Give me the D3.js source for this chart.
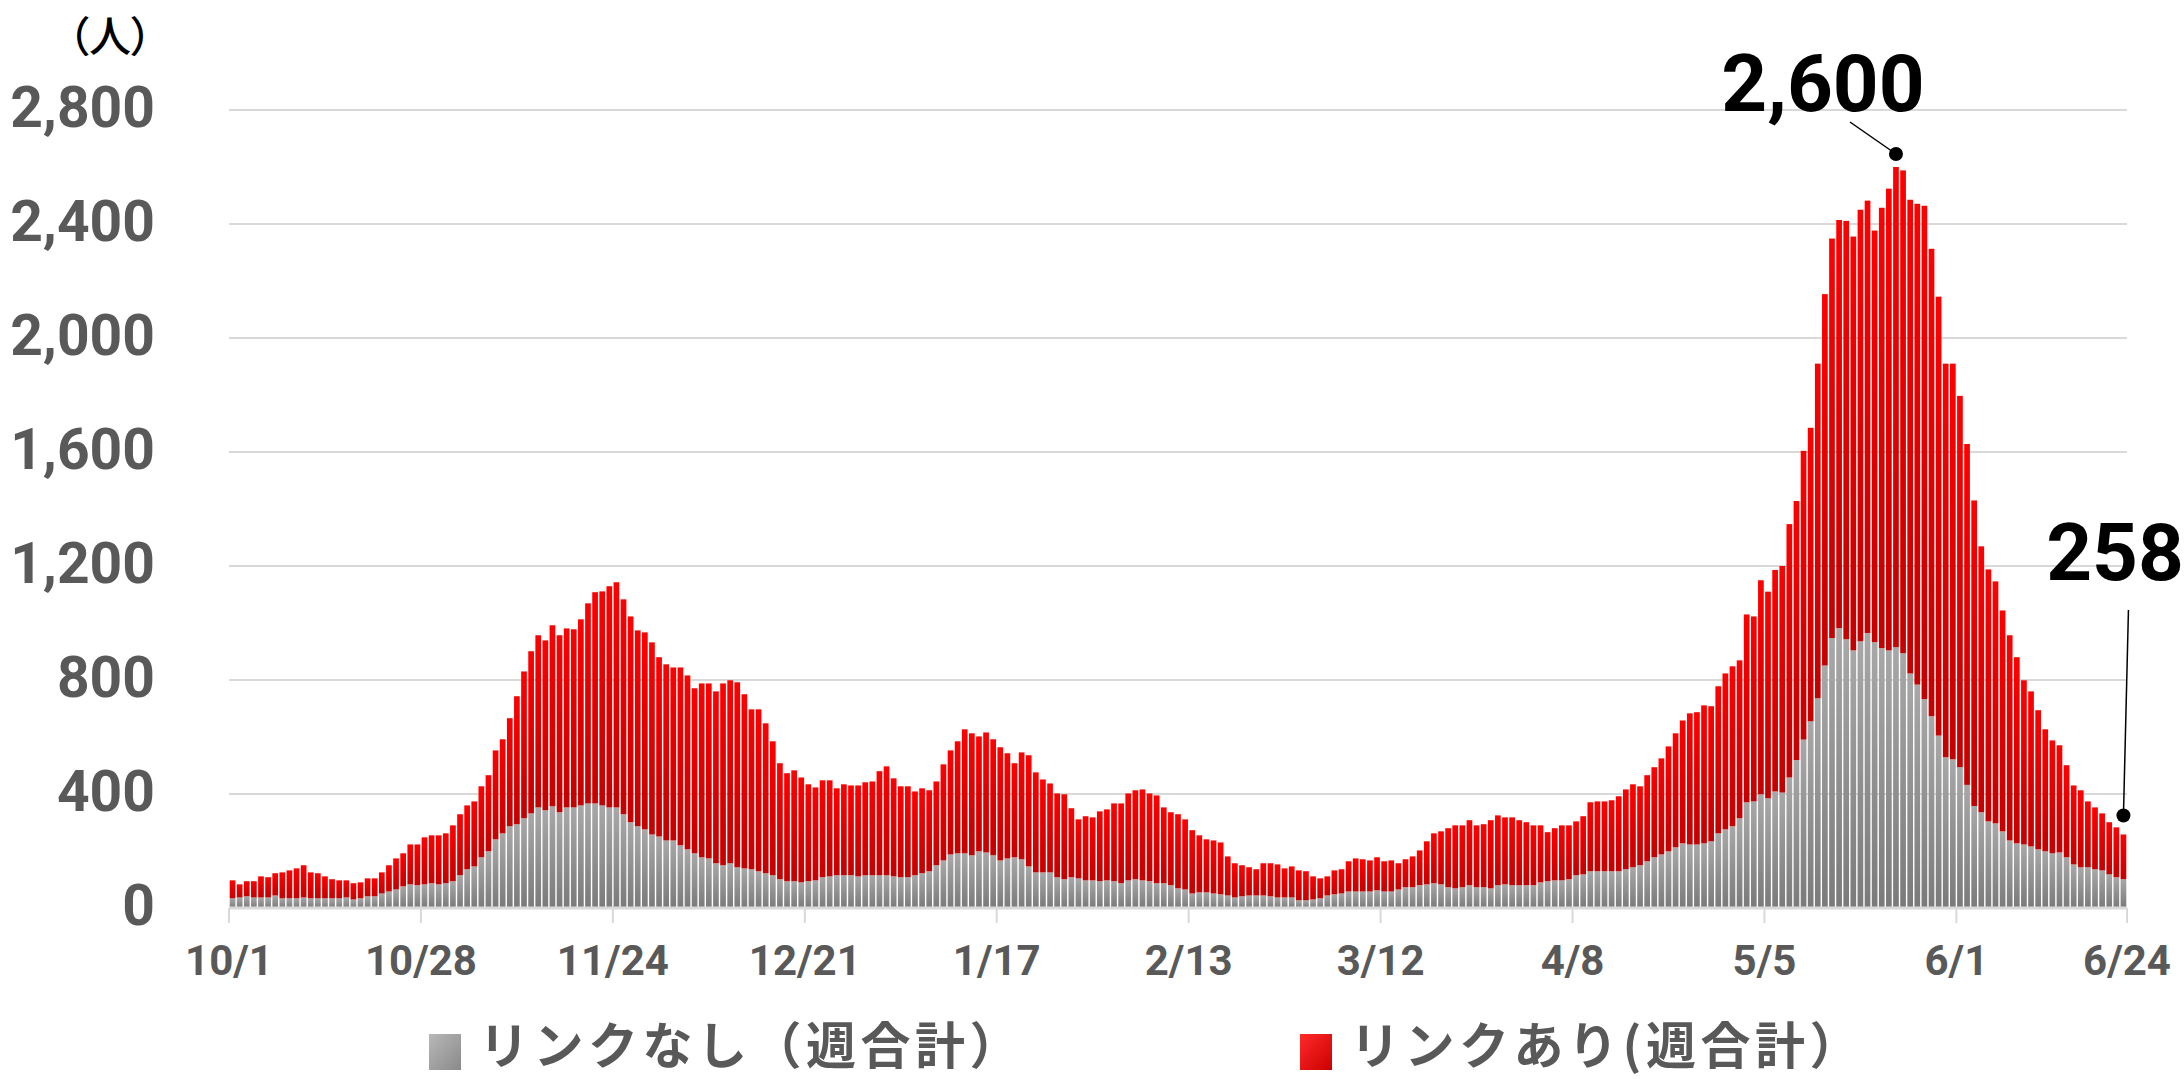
<!DOCTYPE html>
<html>
<head>
<meta charset="utf-8">
<script src="https://cdn.jsdelivr.net/npm/d3@7"></script>
<style>
  body { margin: 0; background: #fff; }
  svg { display: block; }
</style>
</head>
<body>
<div id="chart"></div>
<script>
// weekly totals, one bar per day, 2020/10/1 - 2021/6/24
const noLink = [34,37,41,37,37,37,44,34,34,34,37,34,34,34,34,34,37,30,34,41,41,51,58,65,76,83,80,83,87,83,
  87,94,115,136,146,178,199,241,262,287,294,315,332,353,343,357,336,353,353,360,367,367,360,353,353,329,301,287,276,258,
  251,237,237,220,206,192,178,174,157,150,157,143,139,136,129,122,115,101,94,94,90,94,97,108,111,115,115,115,111,115,
  115,115,115,111,108,108,115,122,129,150,167,188,192,192,185,199,195,185,167,174,178,171,146,125,125,125,108,101,108,104,
  97,97,94,97,94,87,97,101,97,94,87,87,80,69,65,51,55,55,51,48,44,37,41,44,44,44,41,37,37,37,
  27,27,30,34,44,48,51,58,58,58,58,62,58,58,65,73,73,80,83,87,83,73,69,73,80,73,73,69,80,83,
  80,80,80,80,90,94,97,97,101,115,118,129,129,129,129,129,136,143,150,164,178,188,199,213,227,223,223,227,234,262,
  276,287,315,371,374,399,385,409,405,458,519,591,655,736,851,947,982,943,904,936,965,933,912,904,915,894,823,784,733,673,
  605,529,522,494,432,358,336,304,297,269,237,227,223,216,206,199,192,195,178,153,143,143,136,132,118,108,101];

const withLink = [63,46,53,57,74,71,78,91,98,105,113,91,88,77,67,63,60,57,56,63,63,74,92,109,116,140,143,165,168,172,
  175,196,214,224,228,249,267,312,330,379,449,515,569,604,596,635,621,628,625,653,702,741,751,776,790,754,722,687,691,674,
  629,618,607,624,610,579,610,614,603,638,642,649,611,561,568,526,470,407,379,389,368,340,326,340,337,305,319,315,319,326,
  329,365,382,344,319,319,294,298,284,294,337,365,393,435,428,403,421,407,397,369,330,375,390,351,326,312,294,298,242,207,
  225,221,245,249,273,280,305,312,319,308,308,266,256,260,246,222,200,186,186,182,137,120,109,99,92,113,116,116,102,109,
  105,102,81,70,67,84,85,106,116,113,109,116,106,109,92,98,108,122,151,175,186,207,221,217,228,217,221,239,245,235,
  238,228,221,210,200,172,183,193,189,189,204,242,245,245,249,263,280,291,277,302,316,337,368,400,431,460,464,484,474,516,
  547,561,554,659,649,751,725,777,795,889,909,1013,1030,1174,1303,1402,1432,1468,1452,1514,1517,1444,1545,1620,1685,1694,1662,1687,1731,1640,
  1540,1381,1388,1303,1196,1072,933,884,849,775,720,653,576,544,488,428,396,376,323,277,270,231,217,200,183,175,157];

const tickLabels = ["10/1", "10/28", "11/24", "12/21", "1/17", "2/13", "3/12", "4/8", "5/5", "6/1", "6/24"];
const yTicks = [0, 400, 800, 1200, 1600, 2000, 2400, 2800];
const seriesNames = ["リンクなし（週合計）", "リンクあり(週合計）"];
const callouts = [{label: "2,600", day: "5/23", value: 2600}, {label: "258", day: "6/24", value: 258}];

const dates = d3.timeDay.range(new Date(2020, 9, 1), new Date(2021, 5, 25));
const fmt = d3.timeFormat("%-m/%-d");

const rows = dates.map((d, i) => ({key: fmt(d), noLink: noLink[i], withLink: withLink[i]}));

const width = 2184, height = 1079;
const margins = {top: 110, right: 57, bottom: 171, left: 229};
const axisGrey = "#595959", gridGrey = "#d9d9d9";

const svg = d3.select("#chart")
  .append("svg")
    .attr("width", width)
    .attr("height", height)
    .attr("viewBox", [0, 0, width, height]);

// gradients for the bars and legend swatches
const defs = svg.append("defs");
const grad = (id, top, bottom, x2, y2) => {
  const g = defs.append("linearGradient").attr("id", id)
    .attr("x1", 0).attr("y1", 0).attr("x2", x2).attr("y2", y2);
  g.append("stop").attr("offset", "0%").attr("stop-color", top);
  g.append("stop").attr("offset", "100%").attr("stop-color", bottom);
};
grad("gGrey", "#a8a8a8", "#7a7a7a", 0, 1);
grad("gRed", "#ff0000", "#c40000", 0, 1);
grad("sGrey", "#b8b8b8", "#8a8a8a", 1, 1);
grad("sRed", "#ff2a2a", "#cc0000", 1, 1);

const xScale = d3.scaleBand()
  .domain(rows.map(d => d.key))
  .range([margins.left, width - margins.right])
  .paddingInner(0.2)
  .paddingOuter(0.1);

const yScale = d3.scaleLinear()
  .domain([0, 2800])
  .range([height - margins.bottom, margins.top]);

const halfGap = xScale.step() * xScale.paddingInner() / 2;
const x0 = margins.left, x1 = width - margins.right;

// gridlines
svg.append("g")
  .selectAll("line")
  .data(yTicks.filter(d => d > 0))
  .join("line")
    .attr("x1", x0).attr("x2", x1)
    .attr("y1", d => yScale(d)).attr("y2", d => yScale(d))
    .attr("stroke", gridGrey)
    .attr("stroke-width", 2);

// stacked bars
const stack = d3.stack().keys(["noLink", "withLink"])(rows);
const fills = ["url(#gGrey)", "url(#gRed)"];

svg.append("g")
  .selectAll("g")
  .data(stack)
  .join("g")
    .attr("fill", (d, i) => fills[i])
  .selectAll("rect")
  .data(d => d)
  .join("rect")
    .attr("x", d => xScale(d.data.key))
    .attr("y", d => yScale(d[1]))
    .attr("width", xScale.bandwidth())
    .attr("height", d => yScale(d[0]) - yScale(d[1]));

// x axis line and ticks
const y0 = yScale(0);
svg.append("line")
  .attr("x1", x0).attr("x2", x1)
  .attr("y1", y0).attr("y2", y0)
  .attr("stroke", gridGrey)
  .attr("stroke-width", 3);

const tickX = lab => lab === "6/24"
  ? xScale(lab) + xScale.bandwidth() + halfGap
  : xScale(lab) - halfGap;

svg.append("g")
  .selectAll("line")
  .data(tickLabels)
  .join("line")
    .attr("x1", d => tickX(d)).attr("x2", d => tickX(d))
    .attr("y1", y0).attr("y2", y0 + 15)
    .attr("stroke", gridGrey)
    .attr("stroke-width", 2);

svg.append("g")
  .selectAll("text")
  .data(tickLabels)
  .join("text")
    .attr("x", d => tickX(d))
    .attr("y", 975)
    .attr("text-anchor", "middle")
    .attr("font-family", "Roboto, 'Noto Sans CJK JP', sans-serif")
    .attr("font-weight", 700)
    .attr("font-size", 42)
    .attr("fill", axisGrey)
    .text(d => d);

// y axis labels
svg.append("g")
  .selectAll("text")
  .data(yTicks)
  .join("text")
    .attr("x", 155)
    .attr("y", d => yScale(d) + 17)
    .attr("text-anchor", "end")
    .attr("font-family", "Roboto, 'Noto Sans CJK JP', sans-serif")
    .attr("font-weight", 700)
    .attr("font-size", 57)
    .attr("fill", axisGrey)
    .text(d => d3.format(",")(d));

svg.append("text")
  .attr("x", 110)
  .attr("y", 52)
  .attr("text-anchor", "middle")
  .attr("font-family", "'Noto Sans CJK JP', sans-serif")
  .attr("font-weight", 500)
  .attr("font-size", 42)
  .style("font-feature-settings", "'palt'")
  .attr("fill", "#000")
  .text("（人）");

// callouts: dot above the bar, leader line, value
const callPts = callouts.map(c => ({
  ...c,
  x: xScale(c.day) + xScale.bandwidth() / 2,
  y: yScale(c.value) - (c.value > 1000 ? 13 : 19)
}));
const c1 = callPts[0], c2 = callPts[1];

svg.append("line")
  .attr("x1", c1.x - 46).attr("y1", c1.y - 32)
  .attr("x2", c1.x).attr("y2", c1.y)
  .attr("stroke", "#000").attr("stroke-width", 1.5);
svg.append("line")
  .attr("x1", c2.x + 5).attr("y1", 610)
  .attr("x2", c2.x).attr("y2", c2.y)
  .attr("stroke", "#000").attr("stroke-width", 1.5);

svg.append("g")
  .selectAll("circle")
  .data(callPts)
  .join("circle")
    .attr("cx", d => d.x).attr("cy", d => d.y)
    .attr("r", 7)
    .attr("fill", "#000");

svg.append("g")
  .selectAll("text")
  .data([{t: c1.label, x: 1823, y: 111}, {t: c2.label, x: 2115, y: 580}])
  .join("text")
    .attr("x", d => d.x)
    .attr("y", d => d.y)
    .attr("text-anchor", "middle")
    .attr("font-family", "Roboto, 'Noto Sans CJK JP', sans-serif")
    .attr("font-weight", 700)
    .attr("font-size", 80)
    .attr("fill", "#000")
    .text(d => d.t);

// legend
const legend = svg.append("g")
  .selectAll("g")
  .data(seriesNames)
  .join("g")
    .attr("transform", (d, i) => `translate(${[429, 1300][i]},1034)`);

legend.append("rect")
  .attr("width", 32).attr("height", 36)
  .attr("fill", (d, i) => ["url(#sGrey)", "url(#sRed)"][i]);

legend.append("text")
  .attr("x", 50)
  .attr("y", 30)
  .attr("font-family", "'Noto Sans CJK JP', sans-serif")
  .attr("font-weight", 700)
  .attr("font-size", 50)
  .attr("letter-spacing", 4.5)
  .attr("fill", axisGrey)
  .text(d => d);
</script>
</body>
</html>
